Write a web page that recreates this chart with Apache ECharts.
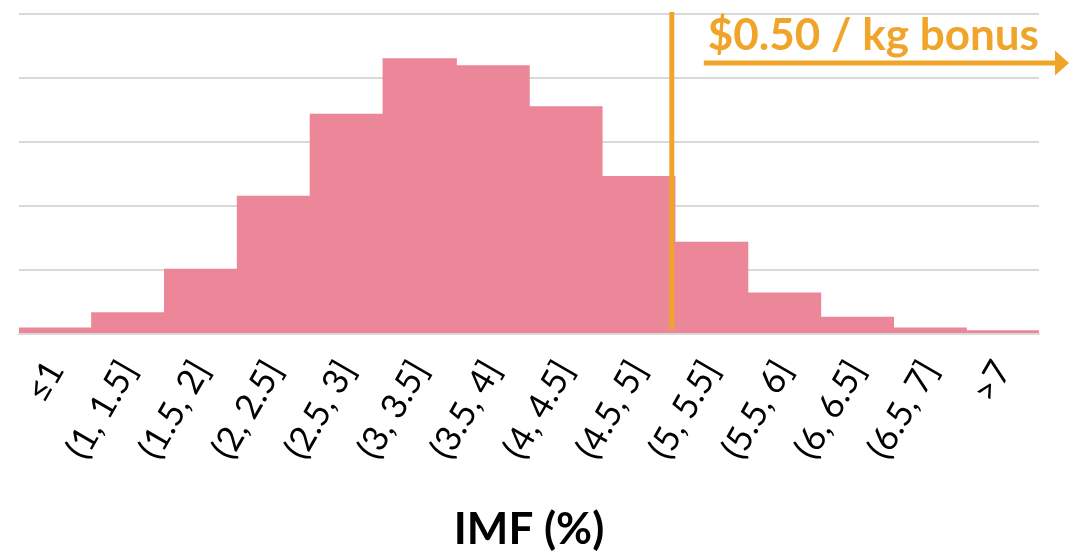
<!DOCTYPE html>
<html>
<head>
<meta charset="utf-8">
<script src="https://cdn.jsdelivr.net/npm/echarts@6/dist/echarts.min.js"></script>
<style>
html,body{margin:0;padding:0;background:#ffffff;}
#chart{width:1069px;height:554px;}
</style>
</head>
<body>
<div id="chart"></div>
<script>
// ---- data ----
const categories = ['≤1', '(1, 1.5]', '(1.5, 2]', '(2, 2.5]', '(2.5, 3]', '(3, 3.5]', '(3.5, 4]',
                    '(4, 4.5]', '(4.5, 5]', '(5, 5.5]', '(5.5, 6]', '(6, 6.5]', '(6.5, 7]', '>7'];
const counts = [0.10, 0.34, 1.02, 2.16, 3.44, 4.31, 4.20, 3.56, 2.47, 1.44, 0.65, 0.27, 0.10, 0.06];
const yTicks = [0, 1, 2, 3, 4, 5];
const bonusThresholdBin = 8.96;       // position of the 5 % threshold on the bin scale
const bonusLineSpan = [0.07, 5.03];   // vertical extent of the threshold line
const bonusLabel = '$0.50 / kg bonus';
const xAxisTitle = 'IMF (%)';

const PINK = '#EC8799';
const ORANGE = '#F0A42A';
const GRID = '#D9D9D9';

const chart = echarts.init(document.getElementById('chart'), null, {renderer: 'canvas'});

const option = {
  animation: false,
  backgroundColor: '#ffffff',
  grid: {left: 19, right: 30, top: 14, bottom: 220, containLabel: false, outerBoundsMode: 'none'},
  xAxis: [
    {
      type: 'category',
      data: categories,
      z: 10,
      axisTick: {show: false},
      axisLine: {show: true, lineStyle: {color: GRID, width: 2}},
      axisLabel: {
        interval: 0,
        rotate: 60,
        margin: 30,
        color: '#000000',
        fontFamily: 'Lato',
        fontSize: 35
      },
      name: xAxisTitle,
      nameLocation: 'middle',
      nameGap: 174,
      nameTextStyle: {color: '#000000', fontFamily: 'Lato', fontWeight: 'bold', fontSize: 44}
    },
    {
      type: 'value',
      min: 0,
      max: categories.length,
      show: false
    }
  ],
  yAxis: {
    type: 'value',
    min: yTicks[0],
    max: yTicks[yTicks.length - 1],
    interval: yTicks[1] - yTicks[0],
    axisLabel: {show: false},
    axisLine: {show: false},
    axisTick: {show: false},
    splitLine: {show: true, lineStyle: {color: GRID, width: 2}}
  },
  series: [
    {
      type: 'bar',
      xAxisIndex: 0,
      data: counts,
      barCategoryGap: '-2%',
      itemStyle: {color: PINK, borderWidth: 0}
    },
    {
      type: 'line',
      xAxisIndex: 1,
      clip: false,
      symbol: 'none',
      z: 5,
      lineStyle: {color: ORANGE, width: 5},
      data: [[bonusThresholdBin, bonusLineSpan[0]], [bonusThresholdBin, bonusLineSpan[1]]]
    }
  ]
};
chart.setOption(option);

// annotation: label and arrow to the right of the threshold
const tx = chart.convertToPixel({xAxisIndex: 1, yAxisIndex: 0}, [bonusThresholdBin, 0])[0];
const W = chart.getWidth();
const arrowY = 63;
chart.setOption({
  graphic: [
    {
      type: 'text',
      left: tx + 36, top: 14,
      style: {text: bonusLabel, fill: ORANGE, font: 'bold 44px Lato'}
    },
    {
      type: 'line',
      shape: {x1: tx + 32, y1: arrowY, x2: W - 12, y2: arrowY},
      style: {stroke: ORANGE, lineWidth: 5}
    },
    {
      type: 'polygon',
      shape: {points: [[W - 14, arrowY - 12.5], [W, arrowY], [W - 14, arrowY + 12.5]]},
      style: {fill: ORANGE}
    }
  ]
});
</script>
</body>
</html>
